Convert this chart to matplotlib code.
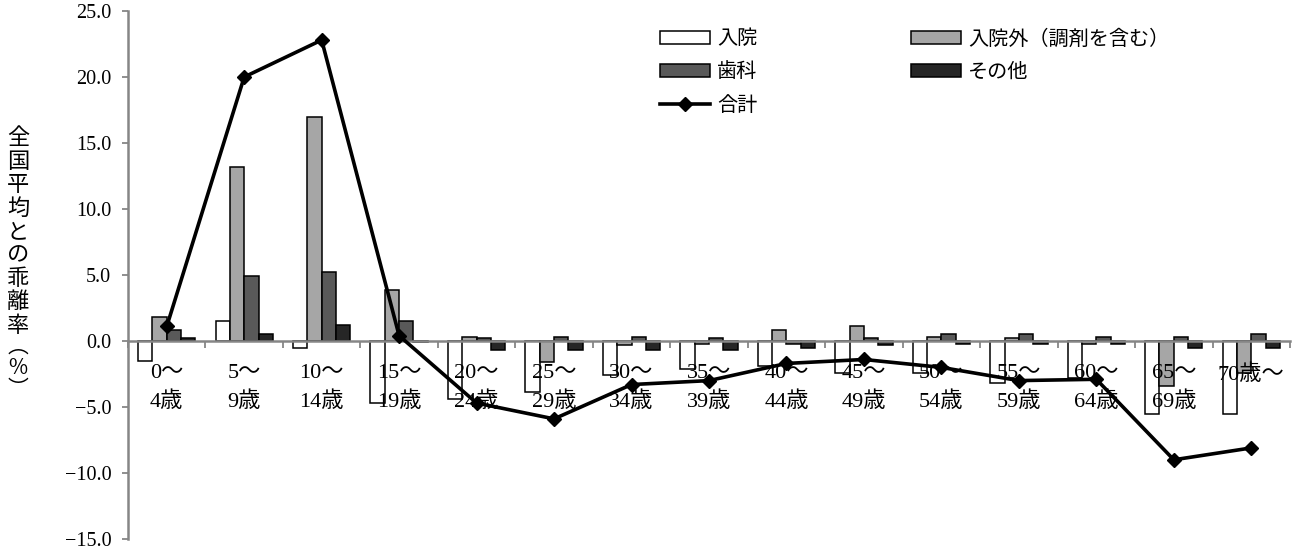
import numpy as np
import matplotlib
matplotlib.use('Agg')
import matplotlib.pyplot as plt

plt.rcParams['font.family'] = ['Liberation Serif', 'Noto Sans CJK JP']
plt.rcParams['axes.unicode_minus'] = True

# age groups
age_labels = ['0～\n4歳', '5～\n9歳', '10～\n14歳', '15～\n19歳', '20～\n24歳',
              '25～\n29歳', '30～\n34歳', '35～\n39歳', '40～\n44歳', '45～\n49歳',
              '50～\n54歳', '55～\n59歳', '60～\n64歳', '65～\n69歳', '70歳～']

# deviation from national average (%)
nyuin = [-1.5, 1.5, -0.5, -4.7, -4.4, -3.9, -2.6, -2.1, -1.9, -2.4, -2.4, -3.2, -2.8, -5.5, -5.5]
nyuingai = [1.8, 13.2, 17.0, 3.9, 0.3, -1.6, -0.3, -0.2, 0.8, 1.1, 0.3, 0.2, -0.2, -3.4, -2.4]
shika = [0.8, 4.9, 5.2, 1.5, 0.2, 0.3, 0.3, 0.2, -0.2, 0.2, 0.5, 0.5, 0.3, 0.3, 0.5]
sonota = [0.2, 0.5, 1.2, -0.1, -0.7, -0.7, -0.7, -0.7, -0.5, -0.3, -0.2, -0.2, -0.2, -0.5, -0.5]
total = [1.1, 20.0, 22.8, 0.4, -4.7, -5.9, -3.3, -3.0, -1.7, -1.4, -2.0, -3.0, -2.9, -9.0, -8.1]

yticks = np.arange(-15, 26, 5)

W, H = 1295, 553
fig = plt.figure(figsize=(W / 100, H / 100), dpi=100)
ax = fig.add_axes([128 / W, 1 - 539 / H, (1290 - 128) / W, (539 - 11) / H])

x = np.arange(len(age_labels))
bw = 0.185
ec = 'black'
b1 = ax.bar(x - 1.5 * bw, nyuin, bw, color='white', edgecolor=ec, linewidth=1.1, label='入院')
b2 = ax.bar(x - 0.5 * bw, nyuingai, bw, color='#a6a6a6', edgecolor=ec, linewidth=1.1, label='入院外（調剤を含む）')
b3 = ax.bar(x + 0.5 * bw, shika, bw, color='#595959', edgecolor=ec, linewidth=1.1, label='歯科')
b4 = ax.bar(x + 1.5 * bw, sonota, bw, color='#262626', edgecolor=ec, linewidth=1.1, label='その他')
ln, = ax.plot(x, total, color='black', linewidth=2.6, marker='D', markersize=7.5, zorder=3, label='合計')

ax.set_xlim(-0.5, len(age_labels) - 0.5)
ax.set_ylim(-15, 25)
ax.set_yticks(yticks)
ax.set_yticklabels([('%.1f' % v).replace('-', '\u2212') for v in yticks])

gray = '#868686'
for s in ['top', 'right']:
    ax.spines[s].set_visible(False)
ax.spines['left'].set_color(gray)
ax.spines['left'].set_linewidth(1.8)
ax.spines['bottom'].set_position(('data', 0))
ax.spines['bottom'].set_color(gray)
ax.spines['bottom'].set_linewidth(1.8)

ax.set_xticks(x)
ax.set_xticklabels(age_labels, linespacing=1.55)
ax.set_xticks(np.arange(-0.5, len(age_labels), 1), minor=True)
ax.tick_params(axis='x', which='major', length=0, pad=16.5, labelsize=16)
ax.tick_params(axis='x', which='minor', length=5, width=1.3, color=gray, direction='out')
ax.tick_params(axis='y', length=4, width=1.3, color=gray, pad=8, labelsize=14.5)

# vertical y label
ylab = '全国平均との乖離率'
for i, ch in enumerate(ylab):
    fig.text(18 / W, 1 - (138 + 23.4 * i) / H, ch, ha='center', va='center',
             fontsize=16, family='Noto Sans CJK JP')
fig.text(18 / W, 1 - 336 / H, '︵\n%\n︶', ha='center', va='top',
         fontsize=15, family='Noto Sans CJK JP', linespacing=0.95)

ax.legend(handles=[b1, b3, ln, b2, b4], ncol=2, loc='upper left',
          bbox_to_anchor=(660 / W, 1 - 30 / H), bbox_transform=fig.transFigure,
          frameon=False, fontsize=14.5, handlelength=2.5, handleheight=0.6,
          handletextpad=0.35, columnspacing=7.6, labelspacing=0.7,
          borderpad=0, borderaxespad=0)

fig.savefig('out.png', dpi=100)
